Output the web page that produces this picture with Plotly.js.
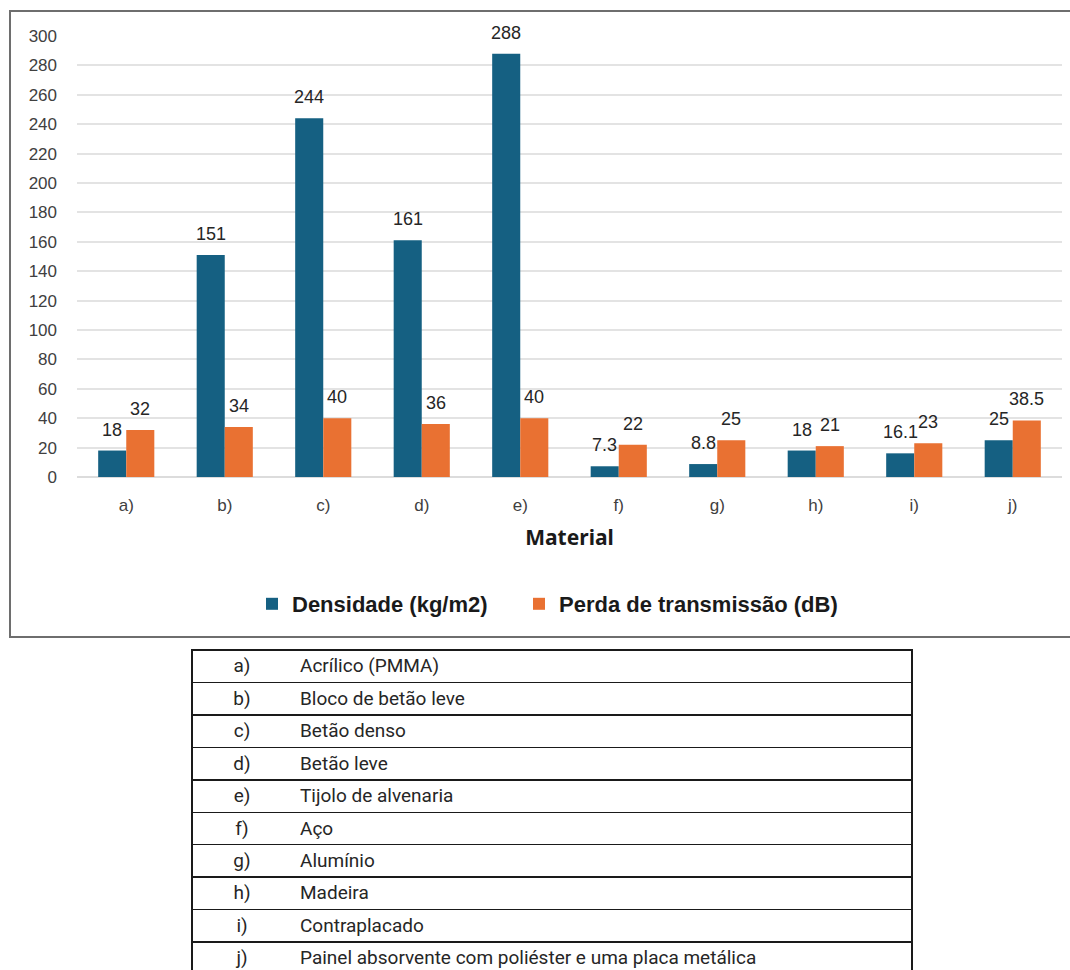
<!DOCTYPE html>
<html>
<head>
<meta charset="utf-8">
<script src="https://cdn.plot.ly/plotly-3.0.1.min.js"></script>
<style>html,body{margin:0;padding:0;background:#fff;}#chart{width:1070px;height:970px;}</style>
</head>
<body>
<div id="chart"></div>
<script>
const categories = ["a)", "b)", "c)", "d)", "e)", "f)", "g)", "h)", "i)", "j)"];
const densidade = [18, 151, 244, 161, 288, 7.3, 8.8, 18, 16.1, 25];
const perda = [32, 34, 40, 36, 40, 22, 25, 21, 23, 38.5];
const materials = [
  "Acrílico (PMMA)",
  "Bloco de betão leve",
  "Betão denso",
  "Betão leve",
  "Tijolo de alvenaria",
  "Aço",
  "Alumínio",
  "Madeira",
  "Contraplacado",
  "Painel absorvente com poliéster e uma placa metálica"
];
const yTicks = [0, 20, 40, 60, 80, 100, 120, 140, 160, 180, 200, 220, 240, 260, 280, 300];

const W = 1070, H = 970;
const px = v => v / W;
const py = v => 1 - v / H;

const xDomain = [px(77), px(1062)];
const bargap = 0.43;
const step = (xDomain[1] - xDomain[0]) * W / categories.length;
const barW = step * (1 - bargap) / 2;

const labelFont = {family: "Liberation Sans, Arial, sans-serif", size: 18, color: "#262626"};
const tableTop = 650;
const hdrH = 1;
const rowH = 32.45;
const transparent = "rgba(0,0,0,0)";

const traces = [
  {
    type: "bar", name: "Densidade (kg/m2)", x: categories, y: densidade,
    marker: {color: "#156082"}, hoverinfo: "x+y", legend: "legend"
  },
  {
    type: "bar", name: "Perda de transmissão (dB)", x: categories, y: perda,
    marker: {color: "#E97132"}, hoverinfo: "x+y", legend: "legend2"
  },
  {
    type: "table",
    domain: {x: [px(192), px(912)], y: [0, py(tableTop - hdrH)]},
    header: {values: [""], height: hdrH, font: {size: 1}, line: {color: transparent, width: 0}, fill: {color: transparent}},
    cells: {
      values: [materials.map(() => "")],
      height: rowH,
      font: {size: 10},
      line: {color: "#1a1a1a", width: 1.5},
      fill: {color: transparent}
    },
    hoverinfo: "skip"
  },
  {
    type: "table",
    domain: {x: [px(192), px(912)], y: [0, py(tableTop - hdrH)]},
    columnwidth: [100, 620],
    header: {values: ["", ""], height: hdrH, font: {size: 1}, line: {color: transparent, width: 0}, fill: {color: transparent}},
    cells: {
      values: [categories, materials],
      height: rowH,
      align: ["center", "left"],
      line: {color: transparent, width: 0},
      fill: {color: transparent},
      font: {family: "Roboto, sans-serif", size: 19, color: "#262626"}
    },
    hoverinfo: "skip"
  }
];

const annotations = [];
[densidade, perda].forEach((vals, si) => {
  vals.forEach((v, i) => {
    annotations.push({
      xref: "x", yref: "y", x: categories[i], y: v,
      text: String(v), showarrow: false,
      xanchor: "center", yanchor: "middle",
      xshift: (si === 0 ? -1 : 1) * barW / 2, yshift: 21,
      font: labelFont
    });
  });
});

const legendFont = {family: "Liberation Sans, Arial, sans-serif", size: 22, color: "#1a1a1a", weight: "bold"};

const layout = {
  width: W, height: H,
  margin: {l: 0, r: 0, t: 0, b: 0},
  paper_bgcolor: "#ffffff", plot_bgcolor: "#ffffff",
  barmode: "group", bargap: bargap, bargroupgap: 0,
  showlegend: true,
  legend: {
    orientation: "h", x: px(252), xanchor: "left", y: py(604), yanchor: "middle",
    font: legendFont, itemwidth: 30, bgcolor: transparent
  },
  legend2: {
    orientation: "h", x: px(519), xanchor: "left", y: py(604), yanchor: "middle",
    font: legendFont, itemwidth: 30, bgcolor: transparent
  },
  xaxis: {
    domain: xDomain,
    tickfont: {family: "Liberation Sans, Arial, sans-serif", size: 17, color: "#404040"},
    ticks: "", showline: false, showgrid: false, ticklabelstandoff: 16,
    title: {text: "<b>Material</b>", font: {family: "Noto Sans, sans-serif", size: 21, color: "#1a1a1a"}, standoff: 16},
    fixedrange: true
  },
  yaxis: {
    domain: [py(477), py(36)],
    range: [0, 300],
    tickvals: yTicks,
    ticktext: yTicks.map(String),
    tickfont: {family: "Liberation Sans, Arial, sans-serif", size: 17, color: "#404040"},
    gridcolor: "#e3e3e3", gridwidth: 2,
    zeroline: true, zerolinecolor: "#dcdcdc", zerolinewidth: 2,
    ticks: "", showline: false, ticklabelstandoff: 19,
    fixedrange: true
  },
  annotations: annotations,
  shapes: [
    {type: "rect", xref: "paper", yref: "paper", x0: px(10), x1: px(1075), y0: py(637), y1: py(11),
     line: {color: "#6e6e6e", width: 2}, fillcolor: transparent, layer: "below"}
  ]
};

Plotly.newPlot("chart", traces, layout, {displayModeBar: false, staticPlot: true});
</script>
</body>
</html>
